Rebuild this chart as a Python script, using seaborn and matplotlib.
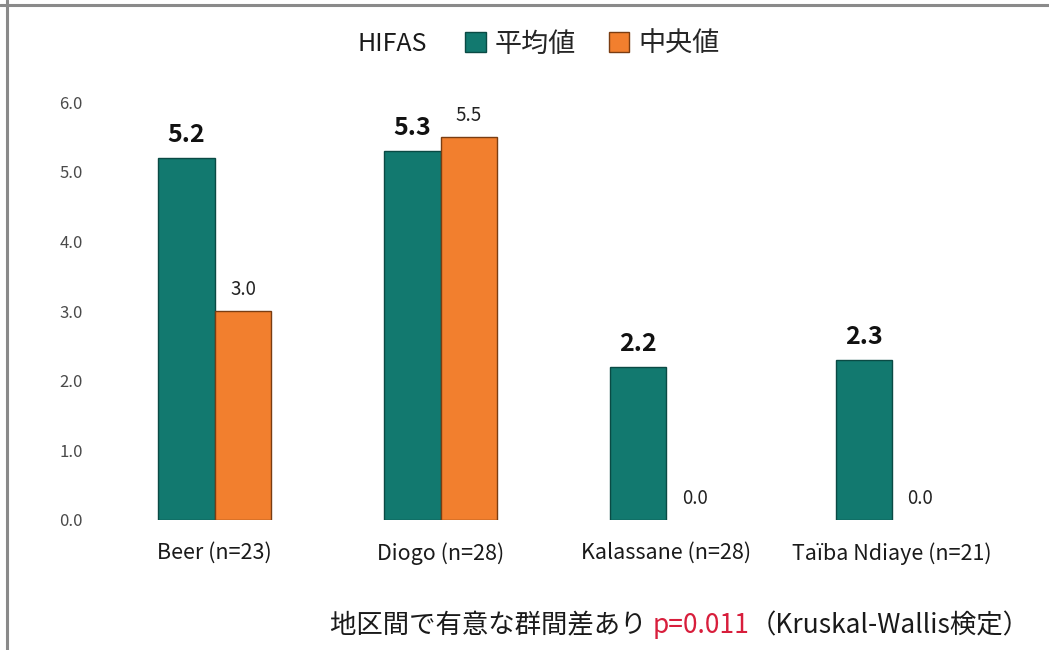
import matplotlib
matplotlib.use("Agg")
import matplotlib.pyplot as plt
from matplotlib.patches import Patch
from matplotlib.lines import Line2D
from matplotlib.ticker import FixedLocator, FormatStrFormatter
import pandas as pd
import seaborn as sns

# HIFAS scores by district
districts = ["Beer (n=23)", "Diogo (n=28)", "Kalassane (n=28)", "Taïba Ndiaye (n=21)"]
mean_vals = [5.2, 5.3, 2.2, 2.3]
median_vals = [3.0, 5.5, 0.0, 0.0]
stat_names = ["平均値", "中央値"]
y_ticks = [0.0, 1.0, 2.0, 3.0, 4.0, 5.0, 6.0]

teal = "#12796F"
orange = "#F27F2E"
edge_colors = {"平均値": "#0A4A44", "中央値": "#7A3D12"}

df = pd.DataFrame({
    "district": districts * 2,
    "stat": [stat_names[0]] * len(districts) + [stat_names[1]] * len(districts),
    "value": mean_vals + median_vals,
})

sns.set_theme(style="white")
plt.rcParams["font.family"] = ["Noto Sans CJK JP", "DejaVu Sans"]

fig = plt.figure(figsize=(10.49, 6.5), dpi=100)
ax = fig.add_axes([0.0972, 0.2, 0.861, 0.643])

sns.barplot(data=df, x="district", y="value", hue="stat", order=districts,
            hue_order=stat_names, palette=[teal, orange], width=0.5,
            saturation=1, linewidth=1.0, legend=False, ax=ax)

# per-series outline colours; zero-height bars get no outline
for cont, name in zip(ax.containers, stat_names):
    for bar in cont:
        bar.set_edgecolor(edge_colors[name])
        if bar.get_height() == 0:
            bar.set_linewidth(0)

ax.bar_label(ax.containers[0], labels=[f"{v:.1f}" for v in mean_vals],
             padding=8, fontsize=18, fontweight="bold", color="#111111")
ax.bar_label(ax.containers[1], labels=[f"{v:.1f}" for v in median_vals],
             padding=8, fontsize=13.5, color="#222222")

ax.set_ylim(0, 6)
ax.set_xlim(-0.5, 3.5)
ax.yaxis.set_major_locator(FixedLocator(y_ticks))
ax.yaxis.set_major_formatter(FormatStrFormatter("%.1f"))
ax.set_xlabel("")
ax.set_ylabel("")
ax.tick_params(axis="y", length=0, pad=14, labelsize=12, labelcolor="#4a4a4a")
ax.tick_params(axis="x", length=0, pad=16, labelsize=15.5, labelcolor="#1a1a1a")
sns.despine(ax=ax, left=True, bottom=True)
ax.grid(False)

# legend row
fig.text(357 / 1049, 0.932, "HIFAS", fontsize=18, va="center", ha="left",
         color="#1a1a1a")
handles = [Patch(facecolor=teal, edgecolor=edge_colors["平均値"], label="平均値"),
           Patch(facecolor=orange, edgecolor=edge_colors["中央値"], label="中央値")]
fig.legend(handles=handles, loc="center", bbox_to_anchor=(0.565, 0.932), ncol=2,
           frameon=False, fontsize=19.5, handlelength=0.75, handleheight=0.75,
           handletextpad=0.35, columnspacing=1.2)

# significance note with coloured p-value
t1 = fig.text(330 / 1049, 0.026, "地区間で有意な群間差あり ", fontsize=19,
              va="baseline", ha="left", color="#1a1a1a")
t2 = ax.annotate("p=0.011", xycoords=t1, xy=(1, 0), va="bottom", ha="left",
                 fontsize=19, color="#D81E3C", annotation_clip=False)
t3 = ax.annotate("（Kruskal-Wallis検定）", xycoords=t2, xy=(1, 0), va="bottom",
                 ha="left", fontsize=19, color="#1a1a1a", annotation_clip=False)

# frame lines along the top and left edges
fig.add_artist(Line2D([0, 1], [1 - 5 / 650] * 2, transform=fig.transFigure,
                      color="#8a8a8a", linewidth=2.2))
fig.add_artist(Line2D([7 / 1049] * 2, [0, 1], transform=fig.transFigure,
                      color="#8a8a8a", linewidth=2.2))

fig.savefig("out.png", dpi=100)
